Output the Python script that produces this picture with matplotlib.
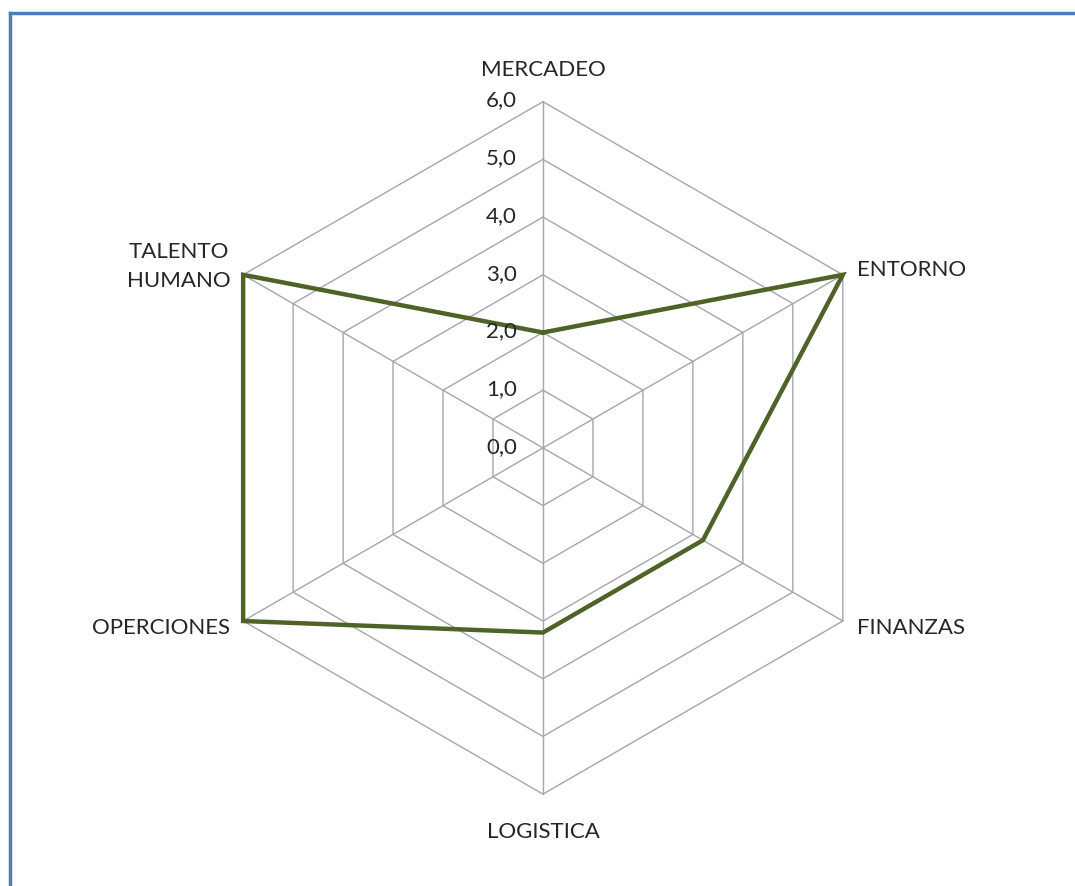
import numpy as np
import matplotlib.pyplot as plt
from matplotlib.lines import Line2D

plt.rcParams['font.family'] = ['Lato', 'DejaVu Sans']

categories = ["MERCADEO", "ENTORNO", "FINANZAS", "LOGISTICA", "OPERCIONES", "TALENTO\nHUMANO"]
values = [2.0, 6.0, 3.2, 3.2, 6.0, 6.0]
levels = [0, 1, 2, 3, 4, 5, 6]
level_labels = ["0,0", "1,0", "2,0", "3,0", "4,0", "5,0", "6,0"]

n = len(categories)
angles = np.arange(n) * 2 * np.pi / n  # clockwise from top


def to_xy(r, a):
    return np.asarray(r) * np.sin(a), np.asarray(r) * np.cos(a)


fig = plt.figure(figsize=(10.75, 8.86), dpi=100)
ax = fig.add_axes([0, 0, 1, 1])
ax.set_xlim(-9.41, 9.22)
ax.set_ylim(-7.59, 7.76)
ax.set_aspect('equal')
ax.axis('off')

grid_col = "#A6A6A6"
closed = np.append(angles, angles[0])
fs = 16

# hexagon grid
for lv in levels[1:]:
    x, y = to_xy(np.full(len(closed), lv), closed)
    ax.plot(x, y, color=grid_col, lw=1, zorder=1)
# spokes
for a in angles:
    x, y = to_xy([0, levels[-1]], [a, a])
    ax.plot(x, y, color=grid_col, lw=1, zorder=1)

# data line
x, y = to_xy(np.append(values, values[0]), closed)
ax.plot(x, y, color="#4F6228", lw=3.2, zorder=3, solid_joinstyle='miter')

# tick labels on the top axis
for lv, lab in zip(levels, level_labels):
    ax.text(-0.45, lv + 0.02, lab, ha='right', va='center', fontsize=fs, color="#262626")

# category labels
rmax = levels[-1]
for cat, a in zip(categories, angles):
    cx, cy = to_xy(rmax, a)
    s, c = np.sin(a), np.cos(a)
    if abs(s) < 1e-6:
        if c > 0:
            ax.text(cx, cy + 0.55, cat, ha='center', va='center', fontsize=fs, color="#262626")
        else:
            ax.text(cx, cy - 0.66, cat, ha='center', va='center', fontsize=fs, color="#262626")
    elif s > 0:
        dy = 0.09 if c > 0 else -0.12
        ax.text(cx + 0.24, cy + dy, cat, ha='left', va='center', fontsize=fs, color="#262626")
    else:
        dy = 0.14 if c > 0 else -0.12
        ax.text(cx - 0.22, cy + dy, cat, ha='right', va='center', fontsize=fs,
                color="#262626", multialignment='center', linespacing=1.55)

# chart border (top and left visible)
fig.add_artist(Line2D([9.5 / 1075, 1.0], [1 - 13 / 886, 1 - 13 / 886], color="#4A7EBB", lw=2.5,
                      transform=fig.transFigure))
fig.add_artist(Line2D([9.5 / 1075, 9.5 / 1075], [0, 1 - 13 / 886], color="#4A7EBB", lw=2.5,
                      transform=fig.transFigure))

fig.savefig("out.png", dpi=100)
